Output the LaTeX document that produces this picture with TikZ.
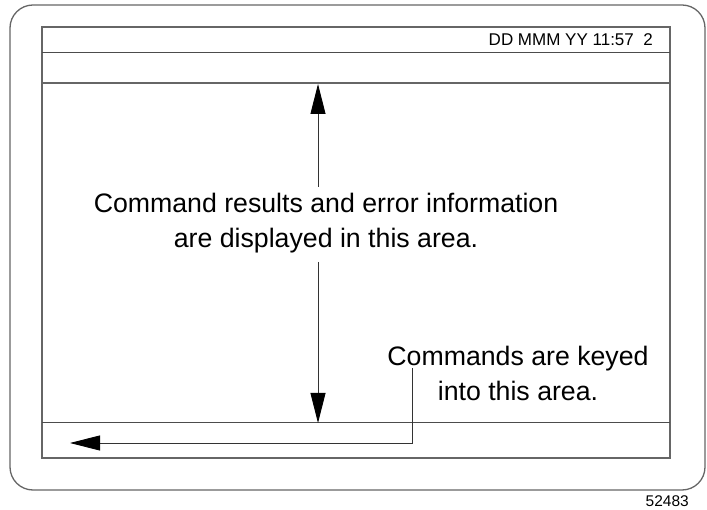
\documentclass[tikz,border=0pt]{standalone}
\usepackage{fontspec}
\setmainfont{Liberation Sans}
\usetikzlibrary{arrows.meta}
\begin{document}
\begin{tikzpicture}[x=1pt,y=-1pt,
  frame/.style={draw=black!60,line width=1.3pt},
  rule/.style={draw=black!70,line width=1pt},
  lead/.style={draw=black!80,line width=0.9pt},
  tip/.style={-{Triangle[length=30pt,width=15pt,color=black,fill=black]}},
  big/.style={font=\fontsize{26.7}{35}\selectfont,align=center,inner sep=0pt},
]
\useasboundingbox (0,0) rectangle (707,510);
% outer rounded case
\draw[frame,rounded corners=23pt] (10,5) rectangle (705,490);
% screen
\draw[frame] (42,27) rectangle (670,458);
\draw[rule] (42,53) -- (670,53);
\draw[frame] (42,83) -- (670,83);
\draw[rule] (42,423) -- (670,423);
% header text
\node[anchor=base east,font=\fontsize{17}{20}\selectfont,inner sep=0pt] (hdr) at (653,46) {DD MMM YY 11:57\ \ 2};
% central text
\node[big] (res) at (326,223) {Command results and error information\\are displayed in this area.};
% bottom-right text
\node[big] (cmd) at (518,373) {Commands are keyed\\into this area.};
% figure number
\node[anchor=base east,font=\fontsize{15.5}{18}\selectfont,inner sep=0pt] (fig) at (689,506) {52483};
% arrows
\coordinate (upS) at (318,187);
\coordinate (upE) at (318,84);
\coordinate (dnS) at (318,262);
\coordinate (dnE) at (318,423);
\coordinate (kS) at (412,368);
\coordinate (kC) at (412,443);
\coordinate (kE) at (70,443);
\draw[lead,tip] (upS) -- (upE);
\draw[lead,tip] (dnS) -- (dnE);
\draw[lead,tip] (kS) -- (kC) -- (kE);
\end{tikzpicture}
\end{document}
